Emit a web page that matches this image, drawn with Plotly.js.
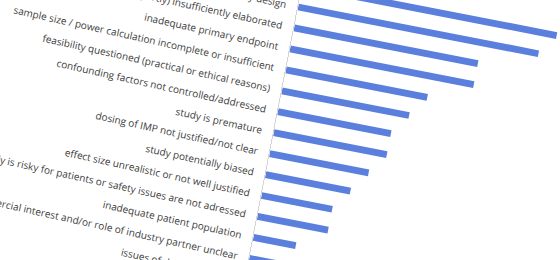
<!DOCTYPE html>
<html>
<head>
<meta charset="utf-8">
<script src="https://cdn.plot.ly/plotly-3.0.1.min.js"></script>
<style>
  html, body { margin: 0; padding: 0; background: #ffffff; }
  body { width: 560px; height: 260px; overflow: hidden; position: relative; }
  #chart {
    position: absolute; left: 0px; top: -150px;
    width: 600px; height: 450px;
    transform-origin: 0px 150px;
    transform: rotate(11deg);
  }
</style>
</head>
<body>
<div id="chart"></div>
<script>
// Reasons (top to bottom as displayed)
const reasons = [
  "scientific rationale unclear",
  "inappropriate study design",
  "statistical analysis (partly) insufficiently elaborated",
  "inadequate primary endpoint",
  "sample size / power calculation incomplete or insufficient",
  "feasibility questioned (practical or ethical reasons)",
  "confounding factors not controlled/addressed",
  "study is premature",
  "dosing of IMP not justified/not clear",
  "study potentially biased",
  "effect size unrealistic or not well justified",
  "study is risky for patients or safety issues are not adressed",
  "inadequate patient population",
  "commercial interest and/or role of industry partner unclear",
  "issues of data protection"
];
// Number of mentions
const counts = [18, 17, 13, 13, 10, 9, 8, 8, 7, 6, 5, 5, 3, 3, 2];

const trace = {
  type: 'bar',
  orientation: 'h',
  y: reasons,
  x: counts,
  marker: { color: '#5a7fdc' },
  width: 0.32,
  hoverinfo: 'none'
};

const layout = {
  width: 600,
  height: 450,
  margin: { l: 293.5, r: 18.1, t: 67.5, b: 62.2, pad: 0 },
  paper_bgcolor: '#ffffff',
  plot_bgcolor: '#ffffff',
  showlegend: false,
  font: { family: 'Open Sans, sans-serif', size: 10, color: '#3c3c3c' },
  xaxis: {
    range: [0, 20],
    showgrid: false, zeroline: false, showline: false,
    showticklabels: false, ticks: ''
  },
  yaxis: {
    type: 'category',
    range: [14.5, -0.5],
    autorange: false,
    automargin: false,
    showgrid: false, zeroline: false,
    showline: true, linecolor: '#d4d4d4', linewidth: 1,
    ticks: '', ticklabelstandoff: 9,
    tickangle: 1.5,
    tickfont: { family: 'Open Sans, sans-serif', size: 10, color: '#3c3c3c' }
  }
};

Plotly.newPlot('chart', [trace], layout, { staticPlot: true, displayModeBar: false });
</script>
</body>
</html>
